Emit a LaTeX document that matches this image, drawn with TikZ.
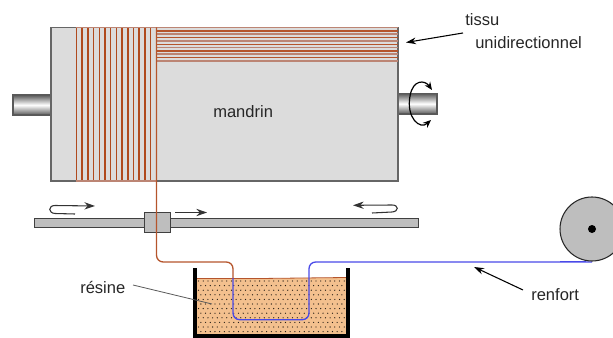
\documentclass[tikz,border=0pt]{standalone}
\usepackage{fontspec}
\setmainfont{Liberation Sans}
\usetikzlibrary{arrows.meta}
\definecolor{drum}{HTML}{DCDCDC}
\definecolor{rail}{HTML}{BEBEBE}
\definecolor{brownfib}{HTML}{B5552C}
\definecolor{vertfib}{HTML}{B04A1E}
\definecolor{palefib}{HTML}{BC8574}
\definecolor{bluefib}{HTML}{4A4AE8}
\definecolor{resin}{HTML}{F3C08E}
\tikzset{
  lbl/.style={inner sep=0pt,font=\fontsize{12.4pt}{14pt}\selectfont,text=black!85},
  shaft/.style={draw=black!65,line width=0.8pt,top color=black!65,bottom color=black!65,middle color=white},
  motion/.style={draw=black!80,line width=0.8pt,-{Stealth[length=8pt,width=5.5pt]}},
  leader/.style={draw=black,line width=0.8pt,-{Stealth[length=7.5pt,width=5pt]}},
  fiber/.style={line width=1pt,rounded corners=5pt},
}
\begin{document}
\begin{tikzpicture}[x=0.75pt,y=-0.75pt]
\useasboundingbox (0,0) rectangle (613,338);
% shafts
\fill[shaft] (13,95) rectangle (52,115);
\fill[shaft] (398,93.5) rectangle (437,114);
% drum
\draw[fill=drum,draw=black!60,line width=0.8pt] (51,27.5) rectangle (398,181);
% circumferential windings
\foreach \i in {0,...,14}{
  \pgfmathsetmacro{\xx}{76.5+\i*5.7}
  \draw[vertfib,line width=1.1pt] (\xx,27.5) -- (\xx,181);
}
\draw[palefib,line width=0.9pt] (76,27.5) -- (156.5,27.5) (76,181) -- (156.5,181);
% longitudinal windings
\foreach \i in {0,...,10}{
  \pgfmathsetmacro{\yy}{27.5+\i*3.35}
  \pgfmathtruncatemacro{\pp}{mod(\i,2)}
  \ifnum\pp=0
    \draw[palefib,line width=1.3pt] (156.5,\yy) -- (398,\yy);
  \else
    \draw[brownfib,line width=1pt] (156.5,\yy) -- (398,\yy);
  \fi
}
% rail and carriage
\draw[fill=rail,draw=black!75,line width=0.7pt] (34,218.5) rectangle (418,227);
\draw[fill=rail,draw=black!75,line width=0.7pt] (144.5,212.7) rectangle (170.7,232);
% resin
\fill[resin] (197,278.5) -- (260,278.5) -- (346,277.5) -- (346,334) -- (197,334) -- cycle;
\foreach \r in {0,...,11}{
  \pgfmathsetmacro{\yy}{281+\r*4.6}
  \pgfmathtruncatemacro{\pp}{mod(\r,2)}
  \foreach \c in {0,...,31}{
    \pgfmathsetmacro{\xx}{198.5+\c*4.7+\pp*2.35}
    \fill[black!85!resin] (\xx,\yy) circle (0.65);
  }
}
\draw[brownfib,line width=0.6pt] (197,278.5) -- (260,278.5) -- (346,277.5);
% tank
\draw[black,line width=3pt,line join=miter] (195,268) -- (195,335.5) -- (348,335.5) -- (348,268);
% fibre: blue part
\coordinate (spool) at (592,262);
\coordinate (blueend) at (233,278);
\draw[fiber,bluefib] (spool) -- (309,262) -- (309,319.7) -- (233,319.7) -- (blueend);
% fibre: brown part
\coordinate (drumtop) at (156.5,27.5);
\draw[fiber,brownfib] (drumtop) -- (156.5,262) -- (233,262) -- (blueend);
% spool
\draw[fill=rail,draw=black!85,line width=0.8pt] (592,229) circle (32);
\fill[black] (592,229) circle (4);
\draw[bluefib,line width=1pt] (560,261.5) -- (586,261.5);
% motion arrows
\coordinate (m1s) at (75,214); \coordinate (m1e) at (95,206);
\coordinate (m2s) at (175,212.5); \coordinate (m2e) at (207,212.5);
\coordinate (m3s) at (372,213); \coordinate (m3e) at (353,205.3);
\draw[motion] (m1s) -- (55,213.5) .. controls (48,213) and (48,205.5) .. (55,205.5) -- (m1e);
\draw[motion] (m2s) -- (m2e);
\draw[motion] (m3s) -- (392,212) .. controls (399,211.5) and (399,205) .. (392,205) -- (m3e);
% rotation
\draw[black,line width=0.9pt,{Stealth[length=6pt,width=5pt]}-{Stealth[length=6pt,width=5pt]}]
  (432,90) .. controls (425,80) and (413,79) .. (410,96) .. controls (406,118) and (420,130) .. (431,120);
% labels
\node[lbl,anchor=west] (tissu) at (465,20) {tissu};
\node[lbl,anchor=west] (uni) at (475,43) {unidirectionnel};
\node[lbl,anchor=west] (mandrin) at (213,111.5) {mandrin};
\node[lbl,anchor=west] (resine) at (80,287) {résine};
\node[lbl,anchor=west] (renfort) at (531,295) {renfort};
% leaders
\coordinate (tissuend) at (406,42.5);
\coordinate (tissustart) at (463,33);
\draw[leader] (tissustart) -- (tissuend);
\coordinate (renfortstart) at (523,290);
\coordinate (renfortend) at (474,267);
\draw[leader] (renfortstart) -- (renfortend);
\coordinate (resinestart) at (133,285);
\coordinate (resineend) at (212,304);
\draw[black!65,line width=0.6pt] (resinestart) -- (resineend);
\end{tikzpicture}
\end{document}
